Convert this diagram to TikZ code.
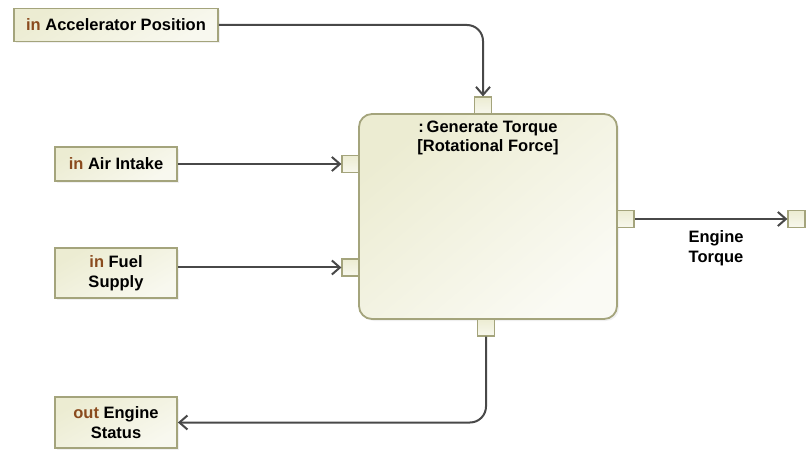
\documentclass[tikz,border=0pt]{standalone}
\usepackage{fontspec}
\setmainfont{Liberation Sans}
\usetikzlibrary{arrows.meta,shadows}
\definecolor{lineclr}{HTML}{484848}
\definecolor{edgeclr}{HTML}{A4A47C}
\definecolor{fillclr}{HTML}{ECECD2}
\definecolor{kwclr}{HTML}{8A4B1E}
\begin{document}
\begin{tikzpicture}[x=1pt,y=1pt,
  font=\fontsize{16.5}{19.5}\selectfont\bfseries,
  softshadow/.style={drop shadow={opacity=0.12,shadow xshift=2pt,shadow yshift=-2pt}},
  param/.style={draw=edgeclr, line width=1.8pt, top color=fillclr, bottom color=fillclr!35!white,
    shading angle=30, inner sep=0pt, align=center, softshadow},
  block/.style={draw=edgeclr, line width=1.8pt, rounded corners=13pt, top color=fillclr,
    bottom color=fillclr!25!white, shading angle=40, inner sep=0pt, softshadow},
  port/.style={draw=edgeclr, line width=1.2pt, top color=fillclr, bottom color=fillclr!40!white,
    minimum size=17pt, inner sep=0pt},
  flow/.style={draw=lineclr, line width=2pt, -{Straight Barb[length=8pt,width=14pt,line width=2pt]}}]
\useasboundingbox (0,0) rectangle (808,450);

% parameter nodes on the left
\node[param, minimum width=204pt, minimum height=33pt] (acc) at (116,425) {{\color{kwclr}in} Accelerator Position};
\node[param, minimum width=122pt, minimum height=34pt] (air) at (116,286) {{\color{kwclr}in} Air Intake};
\node[param, minimum width=122pt, minimum height=50pt] (fuel) at (116,177) {{\color{kwclr}in} Fuel\\Supply};
\node[param, minimum width=122pt, minimum height=51pt] (status) at (116,27.5) {{\color{kwclr}out} Engine\\Status};

% the action block
\node[block, minimum width=258pt, minimum height=205pt] (gen) at (488,233.5) {};
\node[anchor=north, align=center] (title) at (488,333) {:\,Generate Torque\\{}[Rotational Force]};

% pins of the action
\node[port] (ptop) at (483,344.5) {};
\node[port] (pair) at (350.5,286) {};
\node[port] (pfuel) at (350.5,182.5) {};
\node[port] (pright) at (625.5,231) {};
\node[port] (pbot) at (486,122.5) {};
\node[port] (pout) at (796.5,231) {};

% object flows
\draw[flow, rounded corners=16pt] (acc.east) -| (ptop.north);
\draw[flow] (air.east |- pair) -- (pair.west);
\draw[flow] (fuel.east |- pfuel) -- (pfuel.west);
\draw[flow] (pright.east) -- (pout.west);
\draw[flow, rounded corners=16pt] (pbot.south) |- (status.east);

\node[align=center] (torque) at (716,202) {Engine\\Torque};
\end{tikzpicture}
\end{document}
